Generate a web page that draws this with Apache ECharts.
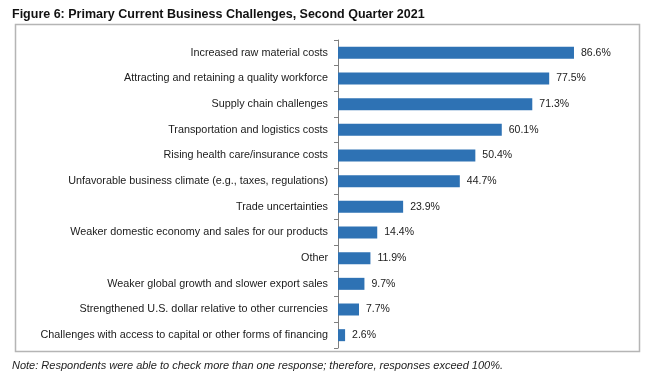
<!DOCTYPE html>
<html>
<head>
<meta charset="utf-8">
<script src="https://cdn.jsdelivr.net/npm/echarts@6/dist/echarts.min.js"></script>
<style>
  html, body { margin: 0; padding: 0; background: #fff; }
  #chart { width: 655px; height: 377px; }
</style>
</head>
<body>
<div id="chart"></div>
<script>
const categories = [
  'Increased raw material costs',
  'Attracting and retaining a quality workforce',
  'Supply chain challenges',
  'Transportation and logistics costs',
  'Rising health care/insurance costs',
  'Unfavorable business climate (e.g., taxes, regulations)',
  'Trade uncertainties',
  'Weaker domestic economy and sales for our products',
  'Other',
  'Weaker global growth and slower export sales',
  'Strengthened U.S. dollar relative to other currencies',
  'Challenges with access to capital or other forms of financing'
];
const values = [86.6, 77.5, 71.3, 60.1, 50.4, 44.7, 23.9, 14.4, 11.9, 9.7, 7.7, 2.6];

const font = '"Liberation Sans", Arial, sans-serif';

const chart = echarts.init(document.getElementById('chart'));

chart.setOption({
  animation: false,
  backgroundColor: '#fff',
  title: {
    text: 'Figure 6: Primary Current Business Challenges, Second Quarter 2021',
    left: 7,
    top: 3,
    textStyle: { fontFamily: font, fontSize: 12.5, fontWeight: 'bold', color: '#111' }
  },
  graphic: [
    {
      type: 'rect',
      shape: { x: 15.5, y: 24.5, width: 624, height: 327 },
      style: { fill: 'none', stroke: '#b5b5b5', lineWidth: 1.5 },
      silent: true
    },
    {
      type: 'text',
      left: 12,
      top: 360,
      style: {
        text: 'Note: Respondents were able to check more than one response; therefore, responses exceed 100%.',
        font: 'italic 11px ' + font,
        fill: '#222'
      }
    }
  ],
  grid: { left: 338, top: 40, width: 272.5, height: 308 },
  xAxis: {
    type: 'value',
    min: 0,
    max: 100,
    show: false
  },
  yAxis: {
    type: 'category',
    data: categories,
    inverse: true,
    axisLine: { lineStyle: { color: '#7f7f7f', width: 1 } },
    axisTick: { show: true, length: 4, lineStyle: { color: '#7f7f7f' } },
    axisLabel: { fontFamily: font, fontSize: 10.8, color: '#1a1a1a', margin: 10 }
  },
  series: [
    {
      type: 'bar',
      data: values,
      barWidth: 12,
      itemStyle: { color: '#2e72b4' },
      label: {
        show: true,
        position: 'right',
        distance: 7,
        formatter: p => p.value.toFixed(1) + '%',
        fontFamily: font,
        fontSize: 10.5,
        color: '#1a1a1a'
      }
    }
  ]
});
</script>
</body>
</html>
